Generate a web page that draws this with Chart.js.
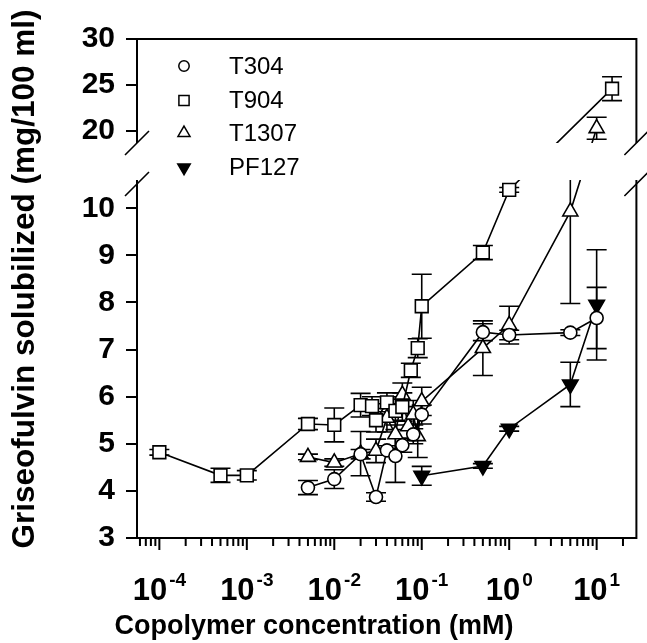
<!DOCTYPE html>
<html>
<head>
<meta charset="utf-8">
<script src="https://cdn.jsdelivr.net/npm/chart.js@4.4.1/dist/chart.umd.min.js"></script>
<style>
html,body{margin:0;padding:0;background:#fff;}
#wrap{width:647px;height:643px;position:relative;}
</style>
</head>
<body>
<div id="wrap"><canvas id="c"></canvas></div>
<script>
// ---------------- DATA ----------------
const seriesNames = ['T304', 'T904', 'T1307', 'PF127'];

const t304X   = [0.005, 0.01, 0.02, 0.03, 0.04, 0.05, 0.06, 0.08, 0.1, 0.5, 1, 5, 10];
const t304Y   = [4.07, 4.25, 4.78, 3.87, 4.86, 4.74, 4.97, 5.20, 5.62, 7.37, 7.31, 7.36, 7.67];
const t304Err = [0.15, 0.20, 0.10, 0.09, 0.10, 0.56, 0.15, 0.20, 0.20, 0.18, 0.10, 0.06, 0.65];

const t904X   = [0.0001, 0.0005, 0.001, 0.005, 0.01, 0.02, 0.027, 0.03, 0.04, 0.05, 0.06, 0.075, 0.09, 0.1, 0.5, 1, 15];
const t904Y   = [4.82, 4.33, 4.33, 5.42, 5.40, 5.82, 5.80, 5.50, 5.88, 5.70, 5.78, 6.56, 7.03, 7.92, 9.06, 10.39, 24.6];
const t904Err = [0.06, 0.15, 0.10, 0.12, 0.36, 0.25, 0.20, 0.25, 0.20, 0.30, 0.30, 0.15, 0.20, 0.68, 0.15, 0.05, 1.3];

const t1307X   = [0.005, 0.01, 0.02, 0.03, 0.04, 0.05, 0.06, 0.07, 0.08, 0.09, 0.1, 0.5, 1, 5, 10];
const t1307Y   = [4.72, 4.60, 4.79, 4.85, 5.55, 5.20, 6.04, 5.37, 5.62, 5.16, 5.90, 7.03, 7.52, 9.93, 20.3];
const t1307Err = [0.06, 0.08, 0.47, 0.25, 0.30, 0.30, 0.25, 0.30, 0.30, 0.45, 0.30, 0.58, 0.40, 1.95, 1.2];

const pf127X   = [0.1, 0.5, 1, 5, 10];
const pf127Y   = [4.32, 4.53, 5.32, 6.26, 7.95];
const pf127Err = [0.20, 0.05, 0.05, 0.47, 1.17];

const yTickValues = [3, 4, 5, 6, 7, 8, 9, 10, 20, 25, 30];
const xTickExponents = [-4, -3, -2, -1, 0, 1];
const xTitle = 'Copolymer concentration (mM)';
const yTitle = 'Griseofulvin solubilized (mg/100 ml)';

// ---------------- STYLE / LAYOUT ----------------
const FAMILY = '"Liberation Sans", Arial, Helvetica, sans-serif';
const BRK = { lowMax: 10.6, highMin: 18.7, lowFrac: 0.7174, highFrac: 0.2084 };

const LinearBase = Chart.LinearScale || Chart.registry.getScale('linear');
class BrokenScale extends LinearBase {
  determineDataLimits() { this.min = 3; this.max = 30; }
  buildTicks() { return yTickValues.map(v => ({ value: v })); }
  _lay() {
    const h = this.bottom - this.top;
    return { lowH: h * BRK.lowFrac, highH: h * BRK.highFrac };
  }
  getPixelForValue(v) {
    const L = this._lay();
    if (v <= BRK.lowMax) return this.bottom - (v - this.min) / (BRK.lowMax - this.min) * L.lowH;
    if (v >= BRK.highMin) return this.top + (this.max - v) / (this.max - BRK.highMin) * L.highH;
    const y0 = this.bottom - L.lowH, y1 = this.top + L.highH;
    return y0 + (v - BRK.lowMax) / (BRK.highMin - BRK.lowMax) * (y1 - y0);
  }
  getValueForPixel(p) {
    const L = this._lay();
    const y0 = this.bottom - L.lowH, y1 = this.top + L.highH;
    if (p >= y0) return this.min + (this.bottom - p) / L.lowH * (BRK.lowMax - this.min);
    if (p <= y1) return this.max - (p - this.top) / L.highH * (this.max - BRK.highMin);
    return BRK.lowMax + (p - y0) / (y1 - y0) * (BRK.highMin - BRK.lowMax);
  }
}
BrokenScale.id = 'broken';
BrokenScale.defaults = LinearBase.defaults;
Chart.register(BrokenScale);

function pts(xs, ys) { return xs.map((x, i) => ({ x: x, y: ys[i] })); }

function makeSet(label, xs, ys, errs, style, rot, radius, fill) {
  return {
    label: label,
    data: pts(xs, ys),
    errors: errs,
    showLine: true,
    borderColor: '#000',
    borderWidth: 1.6,
    backgroundColor: fill,
    pointBackgroundColor: fill,
    pointBorderColor: '#000',
    pointBorderWidth: 1.6,
    pointStyle: style,
    pointRotation: rot,
    pointRadius: radius,
    pointHoverRadius: radius,
    tension: 0,
    fill: false
  };
}

const datasets = [
  makeSet(seriesNames[0], t304X, t304Y, t304Err, 'circle', 0, 6.5, '#fff'),
  makeSet(seriesNames[1], t904X, t904Y, t904Err, 'rect', 0, 9, '#fff'),
  makeSet(seriesNames[2], t1307X, t1307Y, t1307Err, 'triangle', 0, 8.7, '#fff'),
  makeSet(seriesNames[3], pf127X, pf127Y, pf127Err, 'triangle', 180, 9, '#000')
];

function xTicksBuild(scale) {
  const out = [];
  for (let e = -5; e <= 2; e++) {
    for (let m = 1; m <= 9; m++) {
      const v = m * Math.pow(10, e);
      if (v >= scale.min * 0.9999 && v <= scale.max * 1.0001) out.push({ value: v, major: m === 1 });
    }
  }
  scale.ticks = out;
}

const framePlugin = {
  id: 'framePlugin',
  beforeDatasetsDraw(chart) {
    const ctx = chart.ctx, ys = chart.scales.y, xs = chart.scales.x;
    const gapTop = ys.getPixelForValue(BRK.highMin);
    const gapBot = ys.getPixelForValue(BRK.lowMax);
    ctx.save();
    ctx.beginPath();
    ctx.rect(0, 0, chart.width, gapTop);
    ctx.rect(0, gapBot, chart.width, chart.height - gapBot);
    ctx.clip();
    // error bars
    ctx.strokeStyle = '#000';
    ctx.lineWidth = 1.6;
    chart.data.datasets.forEach(ds => {
      ds.data.forEach((p, i) => {
        const e = ds.errors[i];
        if (!e) return;
        const px = xs.getPixelForValue(p.x);
        const yt = ys.getPixelForValue(p.y + e);
        const yb = ys.getPixelForValue(p.y - e);
        ctx.beginPath();
        ctx.moveTo(px, yt); ctx.lineTo(px, yb);
        ctx.moveTo(px - 10, yt); ctx.lineTo(px + 10, yt);
        ctx.moveTo(px - 10, yb); ctx.lineTo(px + 10, yb);
        ctx.stroke();
      });
    });
  },
  afterDatasetsDraw(chart) {
    const ctx = chart.ctx;
    ctx.restore();
    const a = chart.chartArea, ys = chart.scales.y, xs = chart.scales.x;
    const gapTop = ys.getPixelForValue(BRK.highMin);
    const gapBot = ys.getPixelForValue(BRK.lowMax);
    ctx.save();
    ctx.strokeStyle = '#000';
    ctx.lineWidth = 2;
    ctx.lineCap = 'butt';
    ctx.beginPath();
    ctx.moveTo(a.left, a.bottom); ctx.lineTo(a.left, gapBot);
    ctx.moveTo(a.left, gapTop); ctx.lineTo(a.left, a.top);
    ctx.lineTo(a.right, a.top);
    ctx.lineTo(a.right, gapTop);
    ctx.moveTo(a.right, gapBot); ctx.lineTo(a.right, a.bottom);
    ctx.lineTo(a.left, a.bottom);
    ctx.stroke();
    // break marks
    ctx.lineWidth = 1.6;
    ctx.beginPath();
    [a.left, a.right].forEach(x => {
      [gapTop, gapBot + 4].forEach(y => {
        ctx.moveTo(x - 12, y + 12); ctx.lineTo(x + 12, y - 12);
      });
    });
    ctx.stroke();
    // x ticks
    ctx.lineWidth = 2;
    ctx.beginPath();
    xs.ticks.forEach(t => {
      const px = xs.getPixelForValue(t.value);
      ctx.moveTo(px, a.bottom); ctx.lineTo(px, a.bottom + (t.major ? 12 : 8));
    });
    ctx.stroke();
    // x tick labels 10^n
    ctx.fillStyle = '#000';
    ctx.textBaseline = 'alphabetic';
    ctx.textAlign = 'left';
    xTickExponents.forEach(e => {
      const px = xs.getPixelForValue(Math.pow(10, e));
      const base = '10', ex = String(e);
      ctx.font = 'bold 31px ' + FAMILY;
      const wb = ctx.measureText(base).width;
      ctx.font = 'bold 19px ' + FAMILY;
      const we = ctx.measureText(ex).width;
      const x0 = px - (wb + we + 2) / 2;
      ctx.font = 'bold 31px ' + FAMILY;
      ctx.fillText(base, x0, 600);
      ctx.font = 'bold 19px ' + FAMILY;
      ctx.fillText(ex, x0 + wb + 2, 586);
    });
    // x title
    ctx.font = 'bold 27px ' + FAMILY;
    ctx.textAlign = 'center';
    ctx.fillText(xTitle, 314, 634);
    // y title
    ctx.save();
    ctx.translate(25, 279);
    ctx.rotate(-Math.PI / 2);
    ctx.font = 'bold 31.5px ' + FAMILY;
    ctx.textAlign = 'center';
    ctx.textBaseline = 'middle';
    ctx.fillText(yTitle, 0, 0);
    ctx.restore();
    // legend
    const rows = [66, 100.5, 133, 167.5];
    chart.data.datasets.forEach((ds, i) => {
      const y = rows[i];
      ctx.fillStyle = ds.pointBackgroundColor;
      ctx.strokeStyle = '#000';
      ctx.lineWidth = 1.5;
      const opts = { pointStyle: ds.pointStyle, rotation: ds.pointRotation, radius: ds.pointRadius * 0.8, borderWidth: 1.5 };
      if (Chart.helpers && Chart.helpers.drawPoint) {
        Chart.helpers.drawPoint(ctx, opts, 184, y);
      }
      ctx.fillStyle = '#000';
      ctx.font = '24px ' + FAMILY;
      ctx.textAlign = 'left';
      ctx.textBaseline = 'middle';
      ctx.fillText(ds.label, 229, y + 1);
    });
    ctx.restore();
  }
};

new Chart(document.getElementById('c'), {
  type: 'scatter',
  data: { datasets: datasets },
  plugins: [framePlugin],
  options: {
    responsive: true,
    maintainAspectRatio: false,
    animation: false,
    devicePixelRatio: 1,
    layout: { padding: { top: 39, right: 7, left: 0, bottom: 0 } },
    plugins: { legend: { display: false }, tooltip: { enabled: false } },
    scales: {
      x: {
        type: 'logarithmic',
        min: Math.pow(10, -4.2557),
        max: Math.pow(10, 1.4545),
        afterBuildTicks: xTicksBuild,
        afterFit: s => { s.height = 105; },
        grid: { display: false },
        border: { display: false },
        ticks: { callback: () => '', autoSkip: false, maxRotation: 0 }
      },
      y: {
        type: 'broken',
        afterFit: s => { s.width = 137; },
        grid: { display: true, drawOnChartArea: false, drawTicks: true, tickLength: 11, lineWidth: 2, color: '#000' },
        border: { display: false },
        ticks: {
          autoSkip: false,
          padding: 11,
          color: '#000',
          font: { family: FAMILY, size: 30, weight: 'bold' },
          callback: v => String(v)
        }
      }
    }
  }
});
</script>
</body>
</html>
